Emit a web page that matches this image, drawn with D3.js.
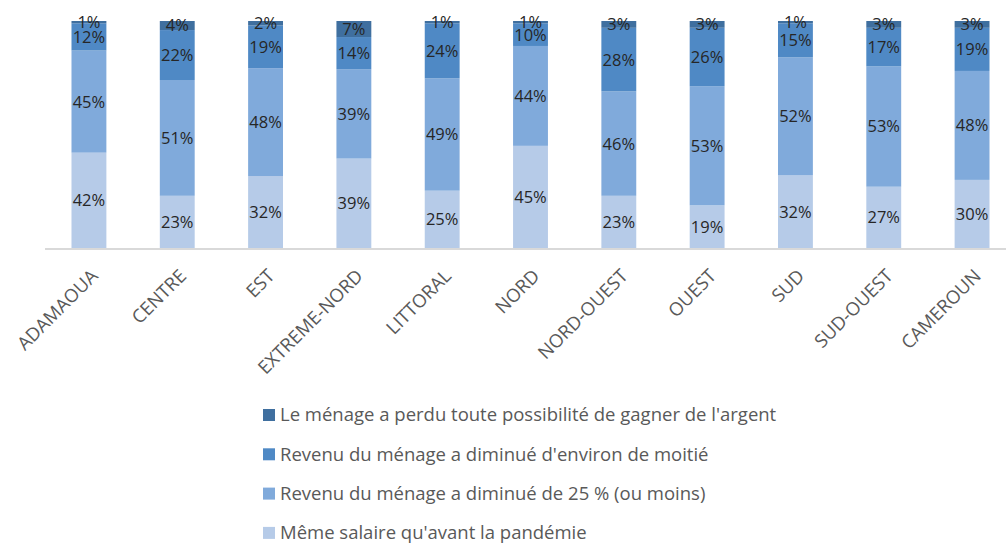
<!DOCTYPE html>
<html>
<head>
<meta charset="utf-8">
<script src="https://cdn.jsdelivr.net/npm/d3@7"></script>
<style>
  html, body { margin: 0; padding: 0; background: #fff; }
  svg { display: block; }
  text { font-family: "Open Sans", "Noto Sans", sans-serif; }
</style>
</head>
<body>
<svg id="chart" width="1006" height="543"></svg>
<script>
// Régions
const regions = ["ADAMAOUA", "CENTRE", "EST", "EXTREME-NORD", "LITTORAL", "NORD",
  "NORD-OUEST", "OUEST", "SUD", "SUD-OUEST", "CAMEROUN"];

// Part des ménages (%) par situation de revenu
const memeSalaire   = [42, 23, 32, 39, 25, 45, 23, 19, 32, 27, 30];
const diminue25     = [45, 51, 48, 39, 49, 44, 46, 53, 52, 53, 48];
const diminueMoitie = [12, 22, 19, 14, 24, 10, 28, 26, 15, 17, 19];
const toutPerdu     = [ 1,  4,  2,  7,  1,  1,  3,  3,  1,  3,  3];

const seriesNames = [
  "Même salaire qu'avant la pandémie",
  "Revenu du ménage a diminué de 25 % (ou moins)",
  "Revenu du ménage a diminué d'environ de moitié",
  "Le ménage a perdu toute possibilité de gagner de l'argent"
];
const seriesValues = [memeSalaire, diminue25, diminueMoitie, toutPerdu];
const colors = ["#b6cbe8", "#80aadb", "#4f89c5", "#3f6f9f"];

const rows = regions.map((r, i) => {
  const o = { region: r };
  seriesNames.forEach((s, k) => { o[s] = seriesValues[k][i]; });
  return o;
});
// Barres à 100 % : chaque pile est ramenée au total de la région
const stacked = d3.stack().keys(seriesNames).offset(d3.stackOffsetExpand)(rows);

const svg = d3.select("#chart");
const x = d3.scaleBand().domain(regions).range([45, 1016]).paddingInner(0.605).paddingOuter(0.3);
const y = d3.scaleLinear().domain([0, 1]).range([248, 21]);

// Barres empilées
const layers = svg.append("g").selectAll("g").data(stacked).join("g")
  .attr("fill", (d, i) => colors[i]);
layers.selectAll("rect").data(d => d).join("rect")
  .attr("x", d => x(d.data.region))
  .attr("width", x.bandwidth())
  .attr("y", d => y(d[1]))
  .attr("height", d => y(d[0]) - y(d[1]));

// Axe horizontal
svg.append("line")
  .attr("x1", 45).attr("x2", 1006)
  .attr("y1", 249).attr("y2", 249)
  .attr("stroke", "#d9d9d9").attr("stroke-width", 2);

// Étiquettes de valeurs
const labels = svg.append("g").attr("font-size", 16.5).attr("fill", "#262626")
  .attr("text-anchor", "middle");
stacked.forEach(layer => {
  layer.forEach(d => {
    const mid = (y(d[0]) + y(d[1])) / 2;
    labels.append("text")
      .attr("x", x(d.data.region) + x.bandwidth() / 2)
      .attr("y", mid)
      .attr("dy", "0.36em")
      .text(d.data[layer.key] + "%");
  });
});

// Étiquettes de catégories
svg.append("g").selectAll("text").data(regions).join("text")
  .attr("transform", d => `translate(${x(d) + x.bandwidth() / 2 + 1},${268}) rotate(-45)`)
  .attr("text-anchor", "end")
  .attr("dy", "0.7em")
  .attr("font-size", 18.5)
  .attr("fill", "#595959")
  .text(d => d);

// Légende
const legendOrder = seriesNames.map((s, i) => ({ name: s, color: colors[i] })).reverse();
const legend = svg.append("g").selectAll("g").data(legendOrder).join("g")
  .attr("transform", (d, i) => `translate(263,${415 + i * 39.3})`);
legend.append("rect").attr("x", 0).attr("y", -6).attr("width", 12).attr("height", 12)
  .attr("fill", d => d.color);
legend.append("text").attr("x", 17).attr("y", 0).attr("dy", "0.35em")
  .attr("font-size", 18.5).attr("fill", "#595959")
  .text(d => d.name);
</script>
</body>
</html>
